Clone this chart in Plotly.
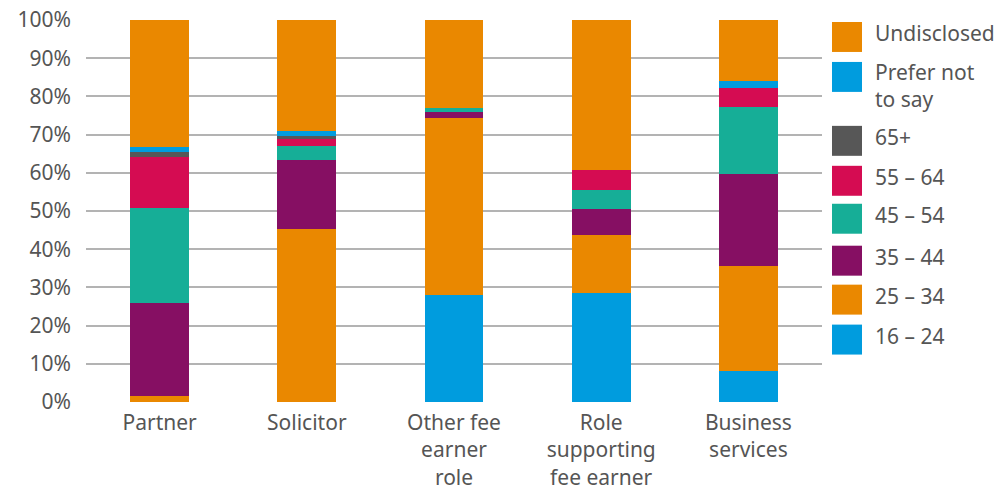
import plotly.graph_objects as go

categories = ["Partner", "Solicitor", "Other fee<br>earner<br>role",
              "Role<br>supporting<br>fee earner", "Business<br>services"]

age_16_24 = [0, 0, 28.1, 28.5, 8.1]
age_25_34 = [1.5, 45.4, 46.3, 15.3, 27.4]
age_35_44 = [24.3, 18.0, 1.6, 6.8, 24.3]
age_45_54 = [25.1, 3.7, 1.0, 5.0, 17.5]
age_55_64 = [13.3, 1.7, 0, 5.2, 5.0]
age_65_plus = [1.3, 0.9, 0, 0, 0]
prefer_not = [1.3, 1.3, 0, 0, 1.8]
undisclosed = [33.2, 29.0, 23.0, 39.2, 15.9]

series_names = ["16 – 24", "25 – 34", "35 – 44", "45 – 54", "55 – 64", "65+",
                "Prefer not<br>to say", "Undisclosed"]
series_values = [age_16_24, age_25_34, age_35_44, age_45_54, age_55_64,
                 age_65_plus, prefer_not, undisclosed]
series_colors = ["#009CDE", "#EA8800", "#860F63", "#16AE97", "#D50C52",
                 "#575757", "#009CDE", "#EA8800"]

y_ticks = list(range(0, 101, 10))
y_tick_text = [f"{v}%" for v in y_ticks]

FONT = "Noto Sans"
TXT = "#555555"
FS = 21

fig = go.Figure()
for name, vals, col in zip(series_names, series_values, series_colors):
    fig.add_trace(go.Bar(x=categories, y=vals, name=name,
                         marker=dict(color=col, line=dict(width=0)),
                         showlegend=False, hoverinfo="skip"))

W, H = 1004, 492
L, R, T, B = 86, 182, 20, 89.5
pw = W - L - R
ph = H - T - B

def px_x(px):
    return (px - L) / pw

def px_y(py):
    return (H - B - py) / ph

# custom legend (top to bottom)
legend_items = list(zip(series_names, series_colors))[::-1]
legend_tops = [22, 62, 126, 166, 204, 246, 285, 325]
shapes = []
annotations = []
for (name, col), top in zip(legend_items, legend_tops):
    shapes.append(dict(type="rect", xref="paper", yref="paper",
                       x0=px_x(832), x1=px_x(862), y0=px_y(top + 30), y1=px_y(top),
                       fillcolor=col, line=dict(width=0)))
    two_line = "<br>" in name
    annotations.append(dict(xref="paper", yref="paper", x=px_x(873),
                            y=px_y(56) if two_line else px_y(top + 11),
                            text=name, showarrow=False, xanchor="left",
                            yanchor="top" if two_line else "middle",
                            align="left",
                            font=dict(family=FONT, size=FS, color=TXT)))

fig.update_layout(
    width=W, height=H,
    margin=dict(l=L, r=R, t=T, b=B),
    barmode="stack", bargap=0.6,
    plot_bgcolor="white", paper_bgcolor="white",
    font=dict(family=FONT, size=FS, color=TXT),
    shapes=shapes, annotations=annotations,
    xaxis=dict(showgrid=False, showline=False, ticks="", tickfont=dict(size=FS),
               ticklabelstandoff=6, automargin=False),
    yaxis=dict(range=[0, 100], tickvals=y_ticks, ticktext=y_tick_text,
               showgrid=True, gridcolor="#b3b3b3", gridwidth=1.5,
               zeroline=False, showline=False, ticks="", automargin=False,
               ticklabelstandoff=14, tickfont=dict(size=FS)),
)

fig.write_html("out.html", config={"displayModeBar": False},
               post_script="document.body.style.margin='0';")
